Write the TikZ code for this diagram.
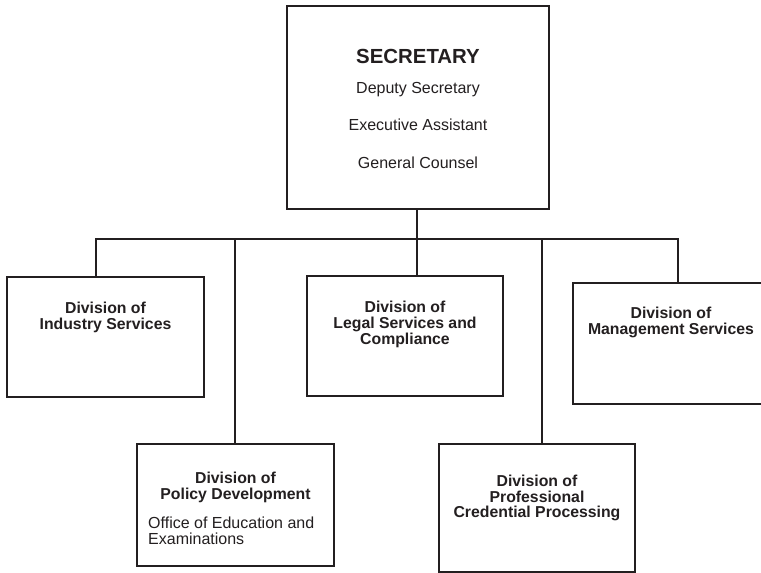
\documentclass[tikz,border=0pt]{standalone}
\usepackage{fontspec}
\setmainfont{Liberation Sans}
\definecolor{ink}{RGB}{35,31,32}
\begin{document}
\begin{tikzpicture}[x=1pt,y=-1pt,
  box/.style={draw=ink, line width=2.3pt, rectangle, inner sep=0pt, fill=white},
  conn/.style={draw=ink, line width=2.3pt},
  ttl/.style={anchor=base, inner sep=0pt, text=ink, font=\fontsize{20.4}{24}\selectfont\bfseries},
  reg/.style={anchor=base, inner sep=0pt, text=ink, font=\fontsize{16}{19}\selectfont},
  bld/.style={anchor=base, inner sep=0pt, text=ink, font=\fontsize{15.8}{16}\selectfont\bfseries},
  regl/.style={anchor=base west, inner sep=0pt, text=ink, font=\fontsize{16}{19}\selectfont}]
\useasboundingbox (0,0) rectangle (761,573);

% boxes
\node[box, minimum width=262pt, minimum height=203pt] (sec) at (418,107.5) {};
\node[box, minimum width=197pt, minimum height=120pt] (ind) at (105.5,337) {};
\node[box, minimum width=196pt, minimum height=120pt] (leg) at (405,336) {};
\node[box, minimum width=196pt, minimum height=121pt] (man) at (671,343.5) {};
\node[box, minimum width=197pt, minimum height=122pt] (pol) at (235.5,505) {};
\node[box, minimum width=196pt, minimum height=128pt] (pro) at (537,508) {};

% bus coordinates
\coordinate (bs) at (417,239);
\coordinate (b1) at (96,239);
\coordinate (b2) at (235,239);
\coordinate (b4) at (542,239);
\coordinate (b5) at (678,239);

% connectors
\draw[conn] (bs |- sec.south) -- (bs);
\draw[conn, line join=miter] (b1 |- ind.north) -- (b1) -- (b5) -- (b5 |- man.north);
\draw[conn] (b2) -- (b2 |- pol.north);
\draw[conn] (bs) -- (bs |- leg.north);
\draw[conn] (b4) -- (b4 |- pro.north);

% Secretary texts
\node[ttl] (s1) at (418,63) {SECRETARY};
\node[reg] (s2) at (418,93) {Deputy Secretary};
\node[reg] (s3) at (418,130) {Executive Assistant};
\node[reg] (s4) at (418,168) {General Counsel};

% Industry
\node[bld] (i1) at (105.5,313) {Division of};
\node[bld] (i2) at (105.5,329) {Industry Services};

% Legal
\node[bld] (l1) at (405,312) {Division of};
\node[bld] (l2) at (405,328) {Legal Services and};
\node[bld] (l3) at (405,344) {Compliance};

% Management
\node[bld] (m1) at (671,318) {Division of};
\node[bld] (m2) at (671,334) {Management Services};

% Policy
\node[bld] (p1) at (235.5,483) {Division of};
\node[bld] (p2) at (235.5,499.5) {Policy Development};
\node[regl] (p3) at (148,528) {Office of Education and};
\node[regl] (p4) at (148,544) {Examinations};

% Professional
\node[bld] (r1) at (537,486) {Division of};
\node[bld] (r2) at (537,502) {Professional};
\node[bld] (r3) at (537,517.5) {Credential Processing};
\end{tikzpicture}
\end{document}
